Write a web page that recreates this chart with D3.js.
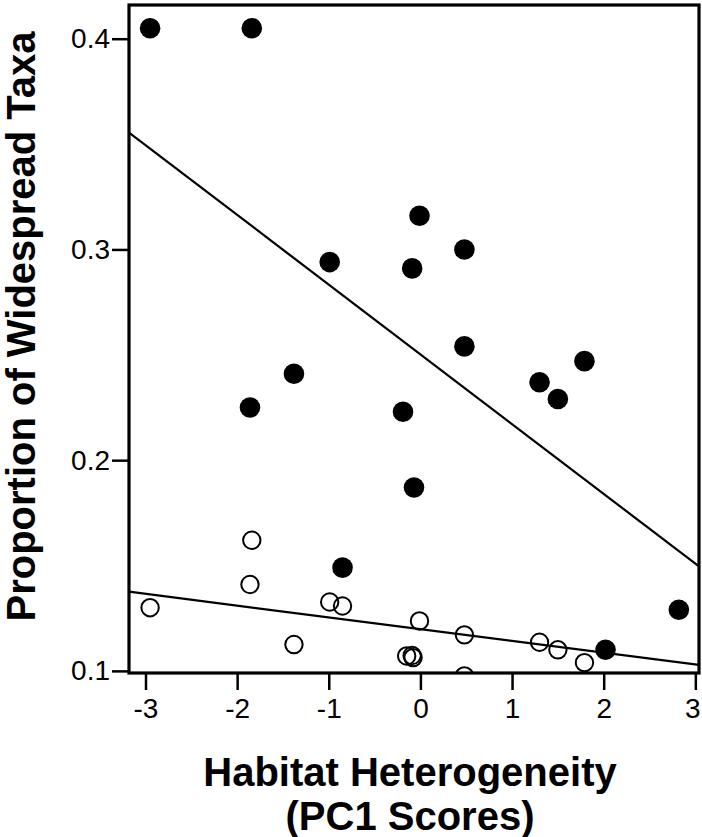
<!DOCTYPE html>
<html>
<head>
<meta charset="utf-8">
<script src="https://cdn.jsdelivr.net/npm/d3@7"></script>
<style>
  html, body { margin: 0; padding: 0; background: #fff; }
  svg { display: block; }
  text { font-family: "Liberation Sans", Arial, Helvetica, sans-serif; fill: #000; }
</style>
</head>
<body>
<svg id="chart" width="702" height="837"></svg>
<script>
// ---- Data ----
const filledX = [-2.95, -1.84, -0.99, -0.01, -0.09, 0.48, 0.48, -1.38, -1.86, -0.19, -0.07, 1.30, 1.50, 1.79, -0.85, 2.02, 2.82];
const filledY = [0.405, 0.405, 0.294, 0.316, 0.291, 0.300, 0.254, 0.241, 0.225, 0.223, 0.187, 0.237, 0.229, 0.247, 0.149, 0.110, 0.129];

const openX = [-2.95, -1.84, -1.86, -1.38, -0.99, -0.85, -0.15, -0.09, -0.08, -0.01, 0.48, 0.48, 1.30, 1.50, 1.79];
const openY = [0.130, 0.162, 0.141, 0.1125, 0.1327, 0.1308, 0.1071, 0.1073, 0.1063, 0.1237, 0.1171, 0.0976, 0.1136, 0.1100, 0.1039];

// regression lines: [intercept, slope]
const filledFit = [0.2502, -0.0331];
const openFit = [0.1198, -0.00559];

const xTicks = [-3, -2, -1, 0, 1, 2, 3];
const yTicks = [0.1, 0.2, 0.3, 0.4];
const xTitle = ["Habitat Heterogeneity", "(PC1 Scores)"];
const yTitle = "Proportion of Widespread Taxa";

// ---- Layout ----
const svg = d3.select("#chart");
const mLeft = 129, mRight = 699, mTop = 5, mBottom = 673;

const x = d3.scaleLinear().domain([-3.18, 3.04]).range([mLeft, mRight]);
const y = d3.scaleLinear().domain([0.099, 0.416]).range([mBottom, mTop]);

svg.append("defs").append("clipPath").attr("id", "plotclip")
  .append("rect").attr("x", mLeft).attr("y", mTop).attr("width", mRight - mLeft).attr("height", mBottom - mTop);

const plot = svg.append("g").attr("clip-path", "url(#plotclip)");

// regression lines
function fitLine(fit) {
  const d = x.domain();
  return d.map(v => [x(v), y(fit[0] + fit[1] * v)]);
}
const line = d3.line();
plot.append("path").attr("d", line(fitLine(filledFit)))
  .attr("fill", "none").attr("stroke", "#000").attr("stroke-width", 2.2);
plot.append("path").attr("d", line(fitLine(openFit)))
  .attr("fill", "none").attr("stroke", "#000").attr("stroke-width", 2.2);

// open points
plot.selectAll("circle.open").data(openX.map((v, i) => [v, openY[i]])).enter()
  .append("circle").attr("class", "open")
  .attr("cx", d => x(d[0])).attr("cy", d => y(d[1])).attr("r", 8.7)
  .attr("fill", "none").attr("stroke", "#000").attr("stroke-width", 2);

// filled points
plot.selectAll("circle.filled").data(filledX.map((v, i) => [v, filledY[i]])).enter()
  .append("circle").attr("class", "filled")
  .attr("cx", d => x(d[0])).attr("cy", d => y(d[1])).attr("r", 10.3)
  .attr("fill", "#000");

// axes
const xAxis = d3.axisBottom(x).tickValues(xTicks).tickSize(17).tickPadding(8)
  .tickFormat(d => d3.format("d")(d).replace("−", "-"));
const gx = svg.append("g").attr("transform", `translate(0,${mBottom})`).call(xAxis);
gx.select(".domain").remove();
gx.selectAll(".tick line").attr("stroke", "#000").attr("stroke-width", 2.5);
gx.selectAll(".tick text").attr("font-size", 28).attr("fill", "#000")
  .attr("font-family", "'Liberation Sans', Arial, sans-serif")
  .attr("dx", (d, i, n) => i === n.length - 1 ? -3 : 0);

const yAxis = d3.axisLeft(y).tickValues(yTicks).tickSize(17).tickPadding(2)
  .tickFormat(d3.format(".1f"));
const gy = svg.append("g").attr("transform", `translate(${mLeft},0)`).call(yAxis);
gy.select(".domain").remove();
gy.selectAll(".tick line").attr("stroke", "#000").attr("stroke-width", 2.5);
gy.selectAll(".tick text").attr("font-size", 28).attr("fill", "#000")
  .attr("font-family", "'Liberation Sans', Arial, sans-serif");

// frame
svg.append("rect").attr("x", mLeft).attr("y", mTop).attr("width", mRight - mLeft).attr("height", mBottom - mTop)
  .attr("fill", "none").attr("stroke", "#000").attr("stroke-width", 3.2);

// titles
const xt = svg.append("text").attr("text-anchor", "middle").attr("font-size", 40).attr("font-weight", "bold");
xt.append("tspan").attr("x", 410).attr("y", 786).text(xTitle[0]);
xt.append("tspan").attr("x", 410).attr("y", 830).text(xTitle[1]);

svg.append("text").attr("text-anchor", "middle").attr("font-size", 40).attr("font-weight", "bold")
  .attr("transform", `translate(35,${(mTop + 622) / 2 + 13}) rotate(-90)`).text(yTitle);
</script>
</body>
</html>
